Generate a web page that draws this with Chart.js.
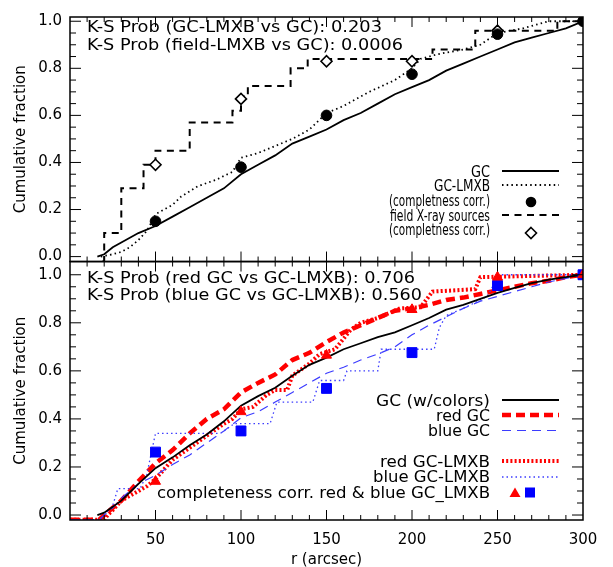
<!DOCTYPE html>
<html lang="en">
<head>
<meta charset="UTF-8">
<title>Cumulative radial distributions</title>
<script src="https://cdn.jsdelivr.net/npm/chart.js"></script>
<style>
  html, body { margin: 0; padding: 0; background: #fff; }
  #wrap { position: relative; width: 613px; height: 567px; }
</style>
</head>
<body>
<div id="wrap"><canvas id="cdf" width="613" height="567"></canvas></div>
<script>
// ---- axis ticks ----
const xTicks = [50, 100, 150, 200, 250, 300];
const yTicks = [0, 0.2, 0.4, 0.6, 0.8, 1.0];

// ---- top panel: all GCs, GC-LMXBs, field sources (r in arcsec, cumulative fraction) ----
const gcAll = [[16,0],[20,0.01],[25,0.04],[30,0.06],[40,0.10],[50,0.13],[60,0.17],[70,0.21],[80,0.25],[90,0.29],
  [100,0.35],[110,0.39],[120,0.43],[130,0.48],[140,0.51],[150,0.54],[160,0.58],[170,0.61],[180,0.65],[190,0.69],
  [200,0.72],[210,0.75],[220,0.79],[230,0.82],[240,0.85],[250,0.88],[260,0.91],[270,0.93],[280,0.95],[290,0.97],[300,1.0]];
const gcLmxb = [[18,0],[25,0.01],[30,0.02],[35,0.04],[40,0.07],[45,0.11],[48,0.15],[50,0.18],[55,0.20],[60,0.22],
  [65,0.255],[75,0.30],[85,0.325],[95,0.36],[100,0.42],[110,0.44],[120,0.47],[130,0.50],[140,0.54],[150,0.61],
  [160,0.64],[175,0.70],[190,0.75],[200,0.80],[205,0.84],[215,0.86],[230,0.88],[240,0.90],[250,0.95],[265,0.97],[280,1.0],[300,1.0]];
const gcLmxbCorr = [[50,0.15],[100,0.38],[150,0.60],[200,0.775],[250,0.945],[300,1.0]];
const fieldSrc = [[19,-0.02],[20,0.10],[30,0.29],[43,0.39],[50,0.45],[70,0.57],[95,0.62],[100,0.68],[104,0.725],
  [129,0.80],[139,0.84],[212,0.88],[237,0.96],[285,1.0],[300,1.0]];
const fieldCorr = [[50,0.39],[100,0.67],[150,0.83],[200,0.83],[250,0.96]];

// ---- bottom panel: colour-split samples ----
const gcColors = [[16,0],[20,0.01],[25,0.034],[30,0.06],[40,0.13],[50,0.195],[60,0.24],[70,0.29],[80,0.335],[90,0.39],
  [100,0.455],[110,0.495],[120,0.53],[130,0.58],[140,0.625],[150,0.655],[160,0.69],[170,0.715],[180,0.74],[190,0.76],
  [200,0.79],[210,0.82],[220,0.855],[230,0.875],[240,0.90],[250,0.925],[260,0.945],[270,0.965],[280,0.98],[290,0.99],[300,1.0]];
const redGc = [[0,-0.02],[17,-0.02],[20,0],[25,0.03],[30,0.06],[40,0.14],[50,0.215],[60,0.27],[70,0.34],[80,0.40],
  [90,0.44],[100,0.51],[110,0.55],[120,0.585],[130,0.645],[140,0.675],[150,0.72],[160,0.76],[170,0.79],[180,0.82],
  [190,0.85],[200,0.86],[210,0.875],[220,0.895],[230,0.905],[240,0.92],[250,0.935],[260,0.95],[270,0.965],[280,0.975],[290,0.99],[300,1.0]];
const blueGc = [[0,-0.02],[17,-0.02],[20,0],[25,0.03],[30,0.07],[40,0.13],[50,0.165],[60,0.21],[70,0.25],[80,0.30],
  [90,0.35],[100,0.405],[110,0.43],[120,0.47],[130,0.51],[140,0.55],[150,0.59],[160,0.615],[170,0.645],[180,0.67],
  [190,0.70],[200,0.75],[210,0.79],[220,0.825],[230,0.86],[240,0.89],[250,0.91],[260,0.93],[270,0.95],[280,0.97],[290,0.985],[300,1.0]];
const redLmxb = [[0,-0.02],[20,-0.02],[22,0],[25,0.02],[30,0.06],[40,0.10],[45,0.12],[50,0.15],[55,0.19],[60,0.23],
  [70,0.28],[80,0.33],[90,0.38],[95,0.40],[100,0.44],[107,0.45],[115,0.50],[120,0.52],[127,0.52],[130,0.58],[140,0.63],
  [146,0.67],[155,0.69],[164,0.77],[170,0.80],[180,0.82],[193,0.86],[205,0.865],[212,0.93],[237,0.94],[240,0.99],[300,1.0]];
const blueLmxb = [[0,-0.02],[17,-0.02],[20,0],[25,0.04],[28,0.11],[41,0.11],[45,0.17],[47,0.24],[50,0.34],[88,0.34],
  [96,0.38],[117,0.38],[121,0.47],[142,0.47],[146,0.56],[160,0.56],[162,0.60],[180,0.60],[182,0.69],[213,0.69],
  [216,0.78],[220,0.83],[230,0.86],[244,0.91],[251,1.0],[300,1.0]];
const redCorr = [[50,0.14],[100,0.43],[150,0.665],[200,0.855],[250,0.99],[300,1.0]];
const blueCorr = [[50,0.262],[100,0.35],[150,0.527],[200,0.676],[250,0.955],[300,1.0]];

const RED = '#ff0000', BLUE = '#0000ff', LBLUE = '#3c3cff';
const FONT = '"DejaVu Sans", sans-serif';

const pts = a => a.map(p => ({x: p[0], y: p[1]}));

function lineSet(data, axis, color, width, dash, extra) {
    return Object.assign({
        data: pts(data), yAxisID: axis, showLine: true, borderColor: color,
        borderWidth: width, borderDash: dash, pointRadius: 0, fill: false,
        tension: 0, clip: 0, order: 2
    }, extra || {});
}
function markSet(data, axis, style, r, fill, stroke, bw) {
    return {
        data: pts(data), yAxisID: axis, showLine: false, pointStyle: style,
        pointRadius: r, pointBackgroundColor: fill, pointBorderColor: stroke,
        pointBorderWidth: bw, clip: 0, order: 1
    };
}

const datasets = [
    lineSet(gcAll, 'yt', '#000', 1.8, []),
    lineSet(gcLmxb, 'yt', '#000', 1.8, [1.5, 3.2]),
    lineSet(fieldSrc, 'yt', '#000', 2, [7, 5.5], {stepped: true}),
    markSet(gcLmxbCorr, 'yt', 'circle', 5.3, '#000', '#000', 1),
    markSet(fieldCorr, 'yt', 'rectRot', 5.5, '#fff', '#000', 1.6),

    lineSet(gcColors, 'yb', '#000', 1.8, []),
    lineSet(blueGc, 'yb', LBLUE, 1.2, [9, 6]),
    lineSet(blueLmxb, 'yb', LBLUE, 1.3, [1.5, 3]),
    lineSet(redLmxb, 'yb', RED, 4, [2, 2.2]),
    lineSet(redGc, 'yb', RED, 4.5, [9, 5]),
    markSet(redCorr, 'yb', 'triangle', 5.8, RED, RED, 1),
    markSet(blueCorr, 'yb', 'rect', 7, BLUE, BLUE, 1)
];

// y axes: the second one listed ends up on top of the stack
function yAxis(min, max, weight) {
    return {
        type: 'linear', position: 'left', stack: 'panels', stackWeight: weight,
        min: min, max: max,
        grid: { display: false, drawTicks: false },
        border: { display: false },
        afterBuildTicks: s => { s.ticks = yTicks.map(v => ({value: v})); },
        afterFit: s => { s.width = 70; },
        ticks: { padding: 8, color: '#000', font: { family: FONT, size: 15 },
                  callback: v => v.toFixed(1) },
        title: { display: true, text: 'Cumulative fraction', color: '#000',
                 font: { family: FONT, size: 15 }, padding: { top: 12, bottom: 0 } }
    };
}

// box, inward tick marks on all four sides of each panel
const framePlugin = {
    id: 'frame',
    afterDatasetsDraw(chart) {
        const ctx = chart.ctx, xs = chart.scales.x;
        const L = chart.chartArea.left, R = chart.chartArea.right;
        const seg = (a, b, c, d) => { ctx.beginPath(); ctx.moveTo(a, b); ctx.lineTo(c, d); ctx.stroke(); };
        ctx.save();
        ctx.strokeStyle = '#000';
        ['yt', 'yb'].forEach(id => {
            const ys = chart.scales[id];
            ctx.lineWidth = 1.5;
            ctx.strokeRect(L, ys.top, R - L, ys.bottom - ys.top);
            ctx.lineWidth = 1;
            for (let i = 0; i <= 20; i++) {
                const p = ys.getPixelForValue(i * 0.05);
                const len = i % 4 === 0 ? 11 : 6;
                seg(L, p, L + len, p);
                seg(R, p, R - len, p);
            }
            for (let v = 10; v < 300; v += 10) {
                const p = xs.getPixelForValue(v);
                const len = v % 50 === 0 ? 10 : 5;
                seg(p, ys.bottom, p, ys.bottom - len);
                seg(p, ys.top, p, ys.top + len);
            }
        });
        ctx.restore();
    }
};

// text drawn squeezed/stretched to the width it takes in the figure
function fitText(ctx, s, x, y, w, align) {
    const m = ctx.measureText(s).width;
    ctx.save();
    ctx.translate(align === 'right' ? x - w : x, y);
    ctx.scale(w / m, 1);
    ctx.textAlign = 'left';
    ctx.fillText(s, 0, 0);
    ctx.restore();
}

function sample(ctx, y, color, width, dash) {
    ctx.save();
    ctx.strokeStyle = color; ctx.lineWidth = width; ctx.setLineDash(dash);
    ctx.beginPath(); ctx.moveTo(502, y); ctx.lineTo(559, y); ctx.stroke();
    ctx.restore();
}

const notesPlugin = {
    id: 'notes',
    afterDraw(chart) {
        const ctx = chart.ctx;
        ctx.save();
        ctx.fillStyle = '#000';
        ctx.font = '15px ' + FONT;
        ctx.textBaseline = 'alphabetic';

        fitText(ctx, 'K-S Prob (GC-LMXB vs GC): 0.203', 87, 32, 295);
        fitText(ctx, 'K-S Prob (field-LMXB vs GC): 0.0006', 87, 50, 316);
        fitText(ctx, 'K-S Prob (red GC vs GC-LMXB): 0.706', 87, 283, 328);
        fitText(ctx, 'K-S Prob (blue GC vs GC-LMXB): 0.560', 87, 299.5, 335);

        // top legend
        fitText(ctx, 'GC', 490, 177, 19, 'right');
        fitText(ctx, 'GC-LMXB', 490, 191, 56, 'right');
        fitText(ctx, '(completness corr.)', 490, 206, 101, 'right');
        fitText(ctx, 'field X-ray sources', 490, 220.5, 100, 'right');
        fitText(ctx, '(completness corr.)', 490, 235, 101, 'right');
        sample(ctx, 171, '#000', 1.8, []);
        sample(ctx, 185, '#000', 1.8, [1.5, 3.2]);
        sample(ctx, 215, '#000', 2, [7, 5.5]);
        ctx.beginPath(); ctx.arc(531, 202, 5.3, 0, Math.PI * 2); ctx.fill();
        ctx.beginPath();
        ctx.moveTo(531, 227.5); ctx.lineTo(536.5, 233); ctx.lineTo(531, 238.5); ctx.lineTo(525.5, 233); ctx.closePath();
        ctx.lineWidth = 1.6; ctx.stroke();

        // bottom legend
        fitText(ctx, 'GC (w/colors)', 490, 405.5, 114, 'right');
        fitText(ctx, 'red GC', 490, 420.5, 54, 'right');
        fitText(ctx, 'blue GC', 490, 436, 62, 'right');
        fitText(ctx, 'red GC-LMXB', 490, 466.5, 110, 'right');
        fitText(ctx, 'blue GC-LMXB', 490, 482, 117, 'right');
        fitText(ctx, 'completeness corr. red & blue GC_LMXB', 490, 498, 333, 'right');
        sample(ctx, 400, '#000', 1.8, []);
        sample(ctx, 415, RED, 4.5, [9, 5]);
        sample(ctx, 430.5, LBLUE, 1.2, [9, 6]);
        sample(ctx, 461, RED, 4, [2, 2.2]);
        sample(ctx, 477, LBLUE, 1.3, [1.5, 3]);
        ctx.fillStyle = RED;
        ctx.beginPath(); ctx.moveTo(515, 487.5); ctx.lineTo(520.5, 497); ctx.lineTo(509.5, 497); ctx.closePath(); ctx.fill();
        ctx.fillStyle = BLUE;
        ctx.fillRect(525, 487.5, 10, 10);
        ctx.restore();
    }
};

new Chart(document.getElementById('cdf'), {
    type: 'scatter',
    data: { datasets: datasets },
    options: {
        responsive: false,
        animation: false,
        events: [],
        layout: { padding: { top: 14, right: 30, left: 0, bottom: 0 } },
        plugins: { legend: { display: false }, tooltip: { enabled: false } },
        scales: {
            x: {
                type: 'linear', position: 'bottom', min: 0, max: 300,
                grid: { display: false, drawTicks: false },
                border: { display: false },
                afterBuildTicks: s => { s.ticks = xTicks.map(v => ({value: v})); },
                afterFit: s => { s.height = 47; },
                ticks: { padding: 11, maxRotation: 0, color: '#000', font: { family: FONT, size: 15 } },
                title: { display: true, text: 'r (arcsec)', color: '#000',
                         font: { family: FONT, size: 15 }, padding: { top: 0, bottom: -2 } }
            },
            yb: yAxis(-0.0207, 1.055, 260),
            yt: yAxis(-0.021, 1.018, 246)
        }
    },
    plugins: [framePlugin, notesPlugin]
});
</script>
</body>
</html>
